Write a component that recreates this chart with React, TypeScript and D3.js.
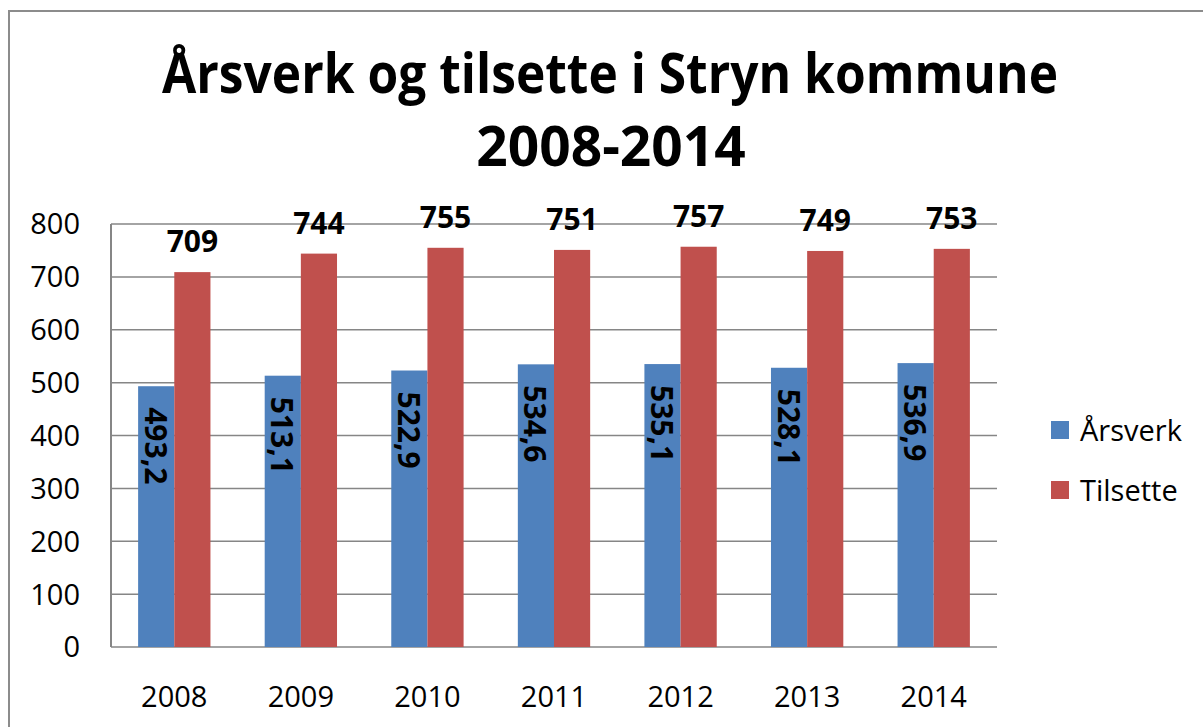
import React from "react";
import * as d3 from "d3";

const years = ["2008", "2009", "2010", "2011", "2012", "2013", "2014"];
const series = ["Årsverk", "Tilsette"];
const arsverk = [493.2, 513.1, 522.9, 534.6, 535.1, 528.1, 536.9];
const tilsette = [709, 744, 755, 751, 757, 749, 753];
const yTicks = [0, 100, 200, 300, 400, 500, 600, 700, 800];
const colors = ["#4F81BD", "#C0504D"];

const width = 1203,
  height = 727;
const plot = { left: 111, right: 997, top: 224, bottom: 647 };
const font = "'Open Sans', 'Liberation Sans', sans-serif";

// "493,2" style labels
const fmt = (v: number) => (Number.isInteger(v) ? String(v) : v.toFixed(1).replace(".", ","));

export default function App() {
  const y = d3.scaleLinear().domain([0, 800]).range([plot.bottom, plot.top]);
  const x0 = d3
    .scaleBand()
    .domain(years)
    .range([plot.left, plot.right])
    .paddingInner(1.5 / 3.5)
    .paddingOuter(0.75 / 3.5);
  const x1 = d3.scaleBand().domain(series).range([0, x0.bandwidth()]);
  const values = [arsverk, tilsette];

  return (
    <svg
      width={width}
      height={height}
      style={{ position: "fixed", left: 0, top: 0, background: "#fff" }}
      fontFamily={font}
    >
      <rect x={9} y={11} width={1400} height={900} fill="#fff" stroke="#8c8c8c" strokeWidth={2} />

      {/* title */}
      <text
        x={610}
        y={93}
        textAnchor="middle"
        fontSize={55}
        fontWeight="bold"
        textLength={896}
        lengthAdjust="spacingAndGlyphs"
      >
        Årsverk og tilsette i Stryn kommune
      </text>
      <text x={611} y={166} textAnchor="middle" fontSize={55} fontWeight="bold">
        2008-2014
      </text>

      {/* gridlines */}
      {yTicks.map((t) => (
        <line
          key={t}
          x1={plot.left}
          x2={plot.right}
          y1={y(t)}
          y2={y(t)}
          stroke="#868686"
          strokeWidth={1.5}
        />
      ))}
      <line x1={plot.left} x2={plot.left} y1={plot.top} y2={plot.bottom} stroke="#868686" strokeWidth={2} />

      {/* y tick labels */}
      {yTicks.map((t) => (
        <text key={t} x={80} y={y(t)} dy="0.36em" textAnchor="end" fontSize={29}>
          {t}
        </text>
      ))}

      {/* bars */}
      {years.map((yr, i) => (
        <g key={yr} transform={`translate(${x0(yr)},0)`}>
          {series.map((s, j) => (
            <rect
              key={s}
              x={x1(s)}
              y={y(values[j][i])}
              width={x1.bandwidth()}
              height={y(0) - y(values[j][i])}
              fill={colors[j]}
            />
          ))}
        </g>
      ))}

      {/* x labels */}
      {years.map((yr) => (
        <text key={yr} x={x0(yr)! + x0.bandwidth() / 2} y={707} textAnchor="middle" fontSize={29}>
          {yr}
        </text>
      ))}

      {/* data labels */}
      {years.map((yr, i) => {
        const bx = x0(yr)! + x1("Årsverk")! + x1.bandwidth() / 2;
        const rx = x0(yr)! + x1("Tilsette")! + x1.bandwidth() / 2;
        const by = y(arsverk[i]) + 21;
        return (
          <g key={yr} fontWeight="bold" fontSize={30}>
            <text
              transform={`translate(${bx},${by}) rotate(90)`}
              dominantBaseline="central"
              textAnchor="start"
            >
              {fmt(arsverk[i])}
            </text>
            <text x={rx} y={y(tilsette[i]) - 20} textAnchor="middle">
              {fmt(tilsette[i])}
            </text>
          </g>
        );
      })}

      {/* legend */}
      {series.map((s, j) => (
        <g key={s} transform={`translate(1051,${421 + j * 60})`}>
          <rect width={18} height={18} fill={colors[j]} />
          <text x={29} y={20} fontSize={29}>
            {s}
          </text>
        </g>
      ))}
    </svg>
  );
}
